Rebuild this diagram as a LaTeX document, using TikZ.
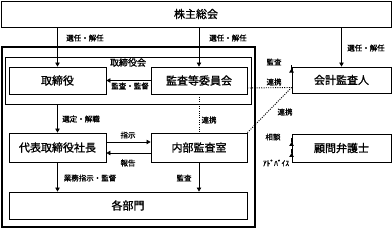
\documentclass[tikz,border=0pt]{standalone}
\usepackage{fontspec}
\newfontfamily\jp[AutoFakeBold=1.2]{Noto Sans CJK JP}
\usetikzlibrary{arrows.meta,positioning,calc}

\begin{document}
\begin{tikzpicture}[x=1pt, y=-1pt,
    box/.style={rectangle, draw, line width=0.9pt, inner sep=0pt, font=\jp\bfseries\fontsize{11}{13}\selectfont},
    lbl/.style={font=\jp\bfseries\fontsize{7.5}{8}\selectfont, inner sep=0.5pt},
    arr/.style={-{Triangle[length=4pt,width=4.5pt]}, line width=0.8pt},
    link/.style={line width=0.9pt, dash pattern=on 1pt off 1.3pt},
]
\useasboundingbox (0,0) rectangle (392,229);

% General meeting
\node[box, minimum width=390pt, minimum height=26pt] (gm) at (196,14) {株主総会};

% Company frame and board
\node[draw, line width=1.8pt, minimum width=253pt, minimum height=180pt] (company) at (128.5,137) {};
\node[box, minimum width=246pt, minimum height=47pt] (board) at (128,80.5) {};
\node[font=\jp\bfseries\fontsize{9}{10}\selectfont, inner sep=0pt] (boardlbl) at (128,62.5) {取締役会};

\node[box, minimum width=97pt, minimum height=27pt] (dir) at (57.5,80.5) {取締役};
\node[box, minimum width=96pt, minimum height=27pt] (ac) at (199,80.5) {監査等委員会};

% Executive side
\node[box, minimum width=97pt, minimum height=29pt] (ceo) at (57.5,147.5) {代表取締役社長};
\node[box, minimum width=96pt, minimum height=29pt] (ia) at (199,147.5) {内部監査室};
\node[box, minimum width=238pt, minimum height=27pt] (dept) at (128,205.5) {各部門};

% Outside parties
\node[box, minimum width=99pt, minimum height=26pt] (auditor) at (341.5,80) {会計監査人};
\node[box, minimum width=99pt, minimum height=28pt] (lawyer) at (341.5,148) {顧問弁護士};

% Appointment arrows
\draw[arr] (gm.south -| dir.north) -- (dir.north);
\draw[arr] (gm.south -| ac.north) -- (ac.north);
\draw[arr] (gm.south -| auditor.north) -- (auditor.north);
\node[lbl] (sel1) at (85,38) {選任・解任};
\node[lbl] (sel2) at (228,38) {選任・解任};
\node[lbl] (sel3) at (366,48) {選任・解任};

% Board internal
\draw[arr] (ac.west) -- (dir.east);
\node[lbl] (supv) at (130,86) {監査・監督};

% Auditor links
\draw[arr] ($(auditor.north west)+(0,2)$) -- ($(auditor.north west)+(0,2)$ -| company.east);
\node[lbl] (aud) at (274,62) {監査};
\draw[link] ($(ac.east)+(0,7.5)$) -- ($(auditor.west)+(0,7.5)$);
\node[lbl] (coop1) at (274,82) {連携};
\draw[link] ($(auditor.west)+(0,7.5)$) -- (ia.north east);
\node[lbl] (coop2) at (285,112) {連携};
\draw[link] (ac.south) -- (ia.north);
\node[lbl] (coop3) at (209,120) {連携};

% Executive arrows
\draw[arr] (board.south -| ceo.north) -- (ceo.north);
\node[lbl] (elect) at (81,119) {選定・解職};
\draw[arr] ($(ceo.east)+(0,-5.5)$) -- ($(ia.west)+(0,-5.5)$);
\node[lbl] (instr) at (128,135) {指示};
\draw[arr] ($(ia.west)+(0,5.5)$) -- ($(ceo.east)+(0,5.5)$);
\node[lbl] (rep) at (128,163) {報告};
\draw[arr] (ceo.south) -- (ceo.south |- dept.north);
\node[lbl] (ops) at (90,178) {業務指示・監督};
\draw[arr] (ia.south) -- (ia.south |- dept.north);
\node[lbl] (audit2) at (184,178) {監査};

% Lawyer
\draw[arr] ($(lawyer.west)+(0,-6)$ -| company.east) -- ($(lawyer.west)+(0,-6)$);
\node[lbl] (consult) at (273,137) {相談};
\draw[arr] ($(lawyer.west)+(0,5)$) -- ($(lawyer.west)+(0,5)$ -| company.east);
\node[lbl] (advice) at (276,163) {ｱﾄﾞﾊﾞｲｽ};

\end{tikzpicture}
\end{document}
